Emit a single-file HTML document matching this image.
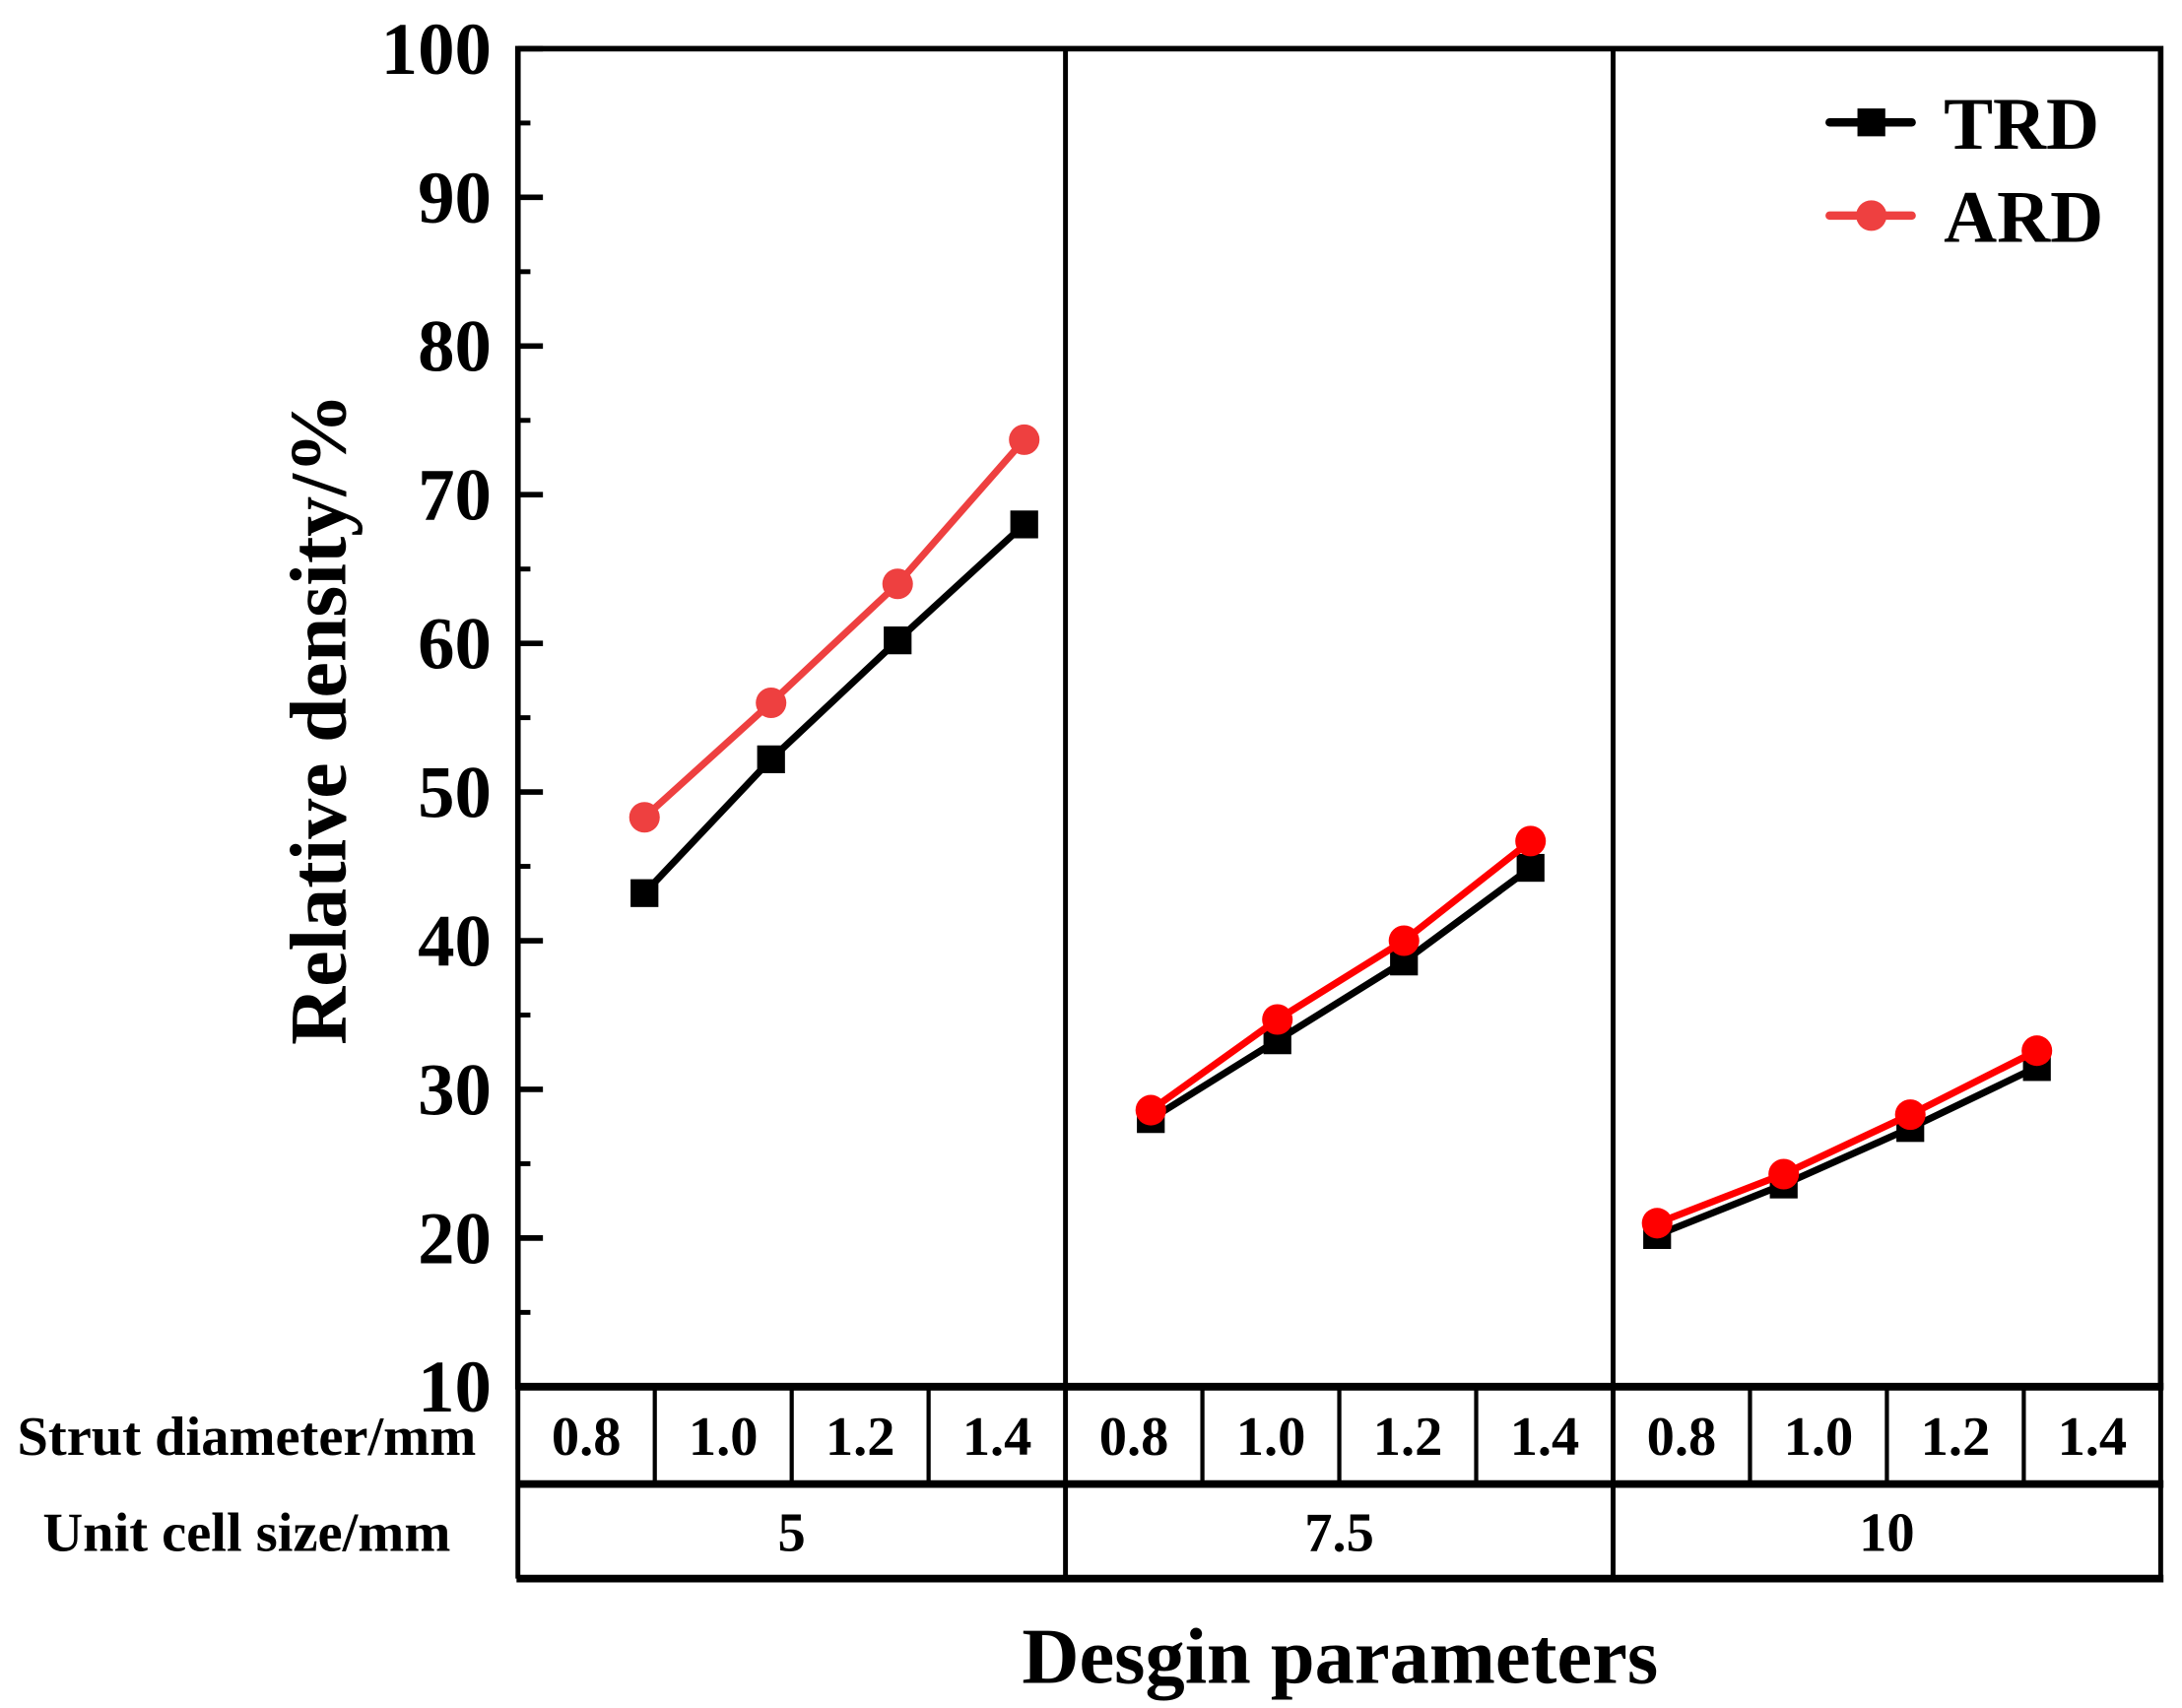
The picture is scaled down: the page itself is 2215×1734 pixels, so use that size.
<!DOCTYPE html>
<html><head><meta charset="utf-8"><style>
html,body{margin:0;padding:0;background:#fff;}
svg{display:block;}
text{font-family:"Liberation Serif",serif;font-weight:bold;fill:#000;}
</style></head>
<body>
<svg id="chart" width="2215" height="1734" viewBox="0 0 1568 1228" xmlns="http://www.w3.org/2000/svg">
<g id="frame"></g>
<g id="yaxis"></g>
<g id="table"></g>
<g id="series"></g>
<g id="legend"></g>
<text x="0" y="0" font-size="58" text-anchor="middle" transform="translate(248,517) rotate(-90)">Relative density/%</text>
<text x="963" y="1210" font-size="57" text-anchor="middle">Desgin parameters</text>
</svg>
<script>
const groups = ["5", "7.5", "10"];
const struts = ["0.8", "1.0", "1.2", "1.4"];
const yTicks = [10, 20, 30, 40, 50, 60, 70, 80, 90, 100];
const trd = [43.2, 52.2, 60.2, 68.0, 28.0, 33.3, 38.6, 44.9, 20.2, 23.6, 27.4, 31.5];
const ard = [48.3, 56.0, 64.0, 73.7, 28.6, 34.7, 40.0, 46.7, 21.0, 24.3, 28.3, 32.6];

const NS = "http://www.w3.org/2000/svg";
const L = 372, R = 1553, T = 35, B = 997;
const groupW = (R - L) / 3;
function y(v){ return B - (v - 10) * (B - T) / 90; }
function x(k){ return 463 + 91 * k; }
function mk(tag, attrs, parent){
  const e = document.createElementNS(NS, tag);
  for (const a in attrs) e.setAttribute(a, attrs[a]);
  parent.appendChild(e); return e;
}
const frame = document.getElementById('frame');
const yaxis = document.getElementById('yaxis');
const table = document.getElementById('table');
const series = document.getElementById('series');
const legend = document.getElementById('legend');

let r = mk('rect', {x:L, y:T, width:R-L, height:B-T, fill:'none', stroke:'#000', 'stroke-width':4}, frame);


for (let g = 1; g < 3; g++){
  const l = mk('line', {x1:L+g*groupW, x2:L+g*groupW, y1:T, y2:1135, stroke:'#000', 'stroke-width':3.5}, frame);
  
  
}
yTicks.forEach((v, i) => {
  const t = mk('line', {x1:L, x2:L+18, y1:y(v), y2:y(v), stroke:'#000', 'stroke-width':4}, yaxis);
  
  
  const tx = mk('text', {x:353, y:y(v)+18, 'font-size':53, 'text-anchor':'end'}, yaxis);
  tx.textContent = v;
  
  
  if (i < yTicks.length - 1){
    const m = mk('line', {x1:L, x2:L+9, y1:y(v+5), y2:y(v+5), stroke:'#000', 'stroke-width':3.5}, yaxis);
    
    
  }
});
[[997,5.5],[1067,5.5],[1135,5.5]].forEach(([yy, w]) => {
  const l = mk('line', {x1:L-1, x2:R+2, y1:yy, y2:yy, stroke:'#000', 'stroke-width':w}, table);
  
  
});
[L, R].forEach(xx => {
  const l = mk('line', {x1:xx, x2:xx, y1:997, y2:1135, stroke:'#000', 'stroke-width':3.5}, table);
  
  
});
const cellW = groupW / 4;
for (let c = 0; c < 12; c++){
  if (c > 0 && c % 4 !== 0){
    const l = mk('line', {x1:L+c*cellW, x2:L+c*cellW, y1:997, y2:1067, stroke:'#000', 'stroke-width':3}, table);
    
    
  }
  const t = mk('text', {x:L+(c+0.5)*cellW, y:1046, 'font-size':40, 'text-anchor':'middle'}, table);
  t.textContent = struts[c % 4];
  
  
}
groups.forEach((g, i) => {
  const t = mk('text', {x:L+(i+0.5)*groupW, y:1115, 'font-size':40, 'text-anchor':'middle'}, table);
  t.textContent = g;
  
  
});
let h1 = mk('text', {x:177, y:1046, 'font-size':40, 'text-anchor':'middle'}, table);
h1.textContent = 'Strut diameter/mm';


let h2 = mk('text', {x:177, y:1115, 'font-size':40, 'text-anchor':'middle'}, table);
h2.textContent = 'Unit cell size/mm';



function drawSeries(vals, name, isCircle){
  for (let g = 0; g < 3; g++){
    const col = isCircle ? (g === 0 ? '#ee4040' : '#ff0000') : '#000';
    const pts = [];
    for (let i = 0; i < 4; i++){ const k = g*4+i; pts.push(x(k)+','+y(vals[k])); }
    const pl = mk('polyline', {points:pts.join(' '), fill:'none', stroke:col, 'stroke-width':5, 'stroke-linejoin':'round'}, series);
    
    
    for (let i = 0; i < 4; i++){
      const k = g*4+i;
      let m;
      if (isCircle) m = mk('circle', {cx:x(k), cy:y(vals[k]), r:11, fill:col}, series);
      else m = mk('rect', {x:x(k)-10, y:y(vals[k])-10, width:20, height:20, fill:col}, series);
      
      
    }
  }
}
drawSeries(trd, 'trd', false);
drawSeries(ard, 'ard', true);

[['TRD','#000',false,88],['ARD','#ee4040',true,155]].forEach(([lab,col,circ,yy]) => {
  const l = mk('line', {x1:1315, x2:1374, y1:yy, y2:yy, stroke:col, 'stroke-width':6, 'stroke-linecap':'round'}, legend);
  
  
  const m = circ ? mk('circle', {cx:1345, cy:yy, r:11, fill:col}, legend)
                 : mk('rect', {x:1335, y:yy-10, width:20, height:20, fill:col}, legend);
  
  
  const t = mk('text', {x:1397, y:yy+19, 'font-size':53}, legend);
  t.textContent = lab;
  
  
});
</script>
</body></html>
